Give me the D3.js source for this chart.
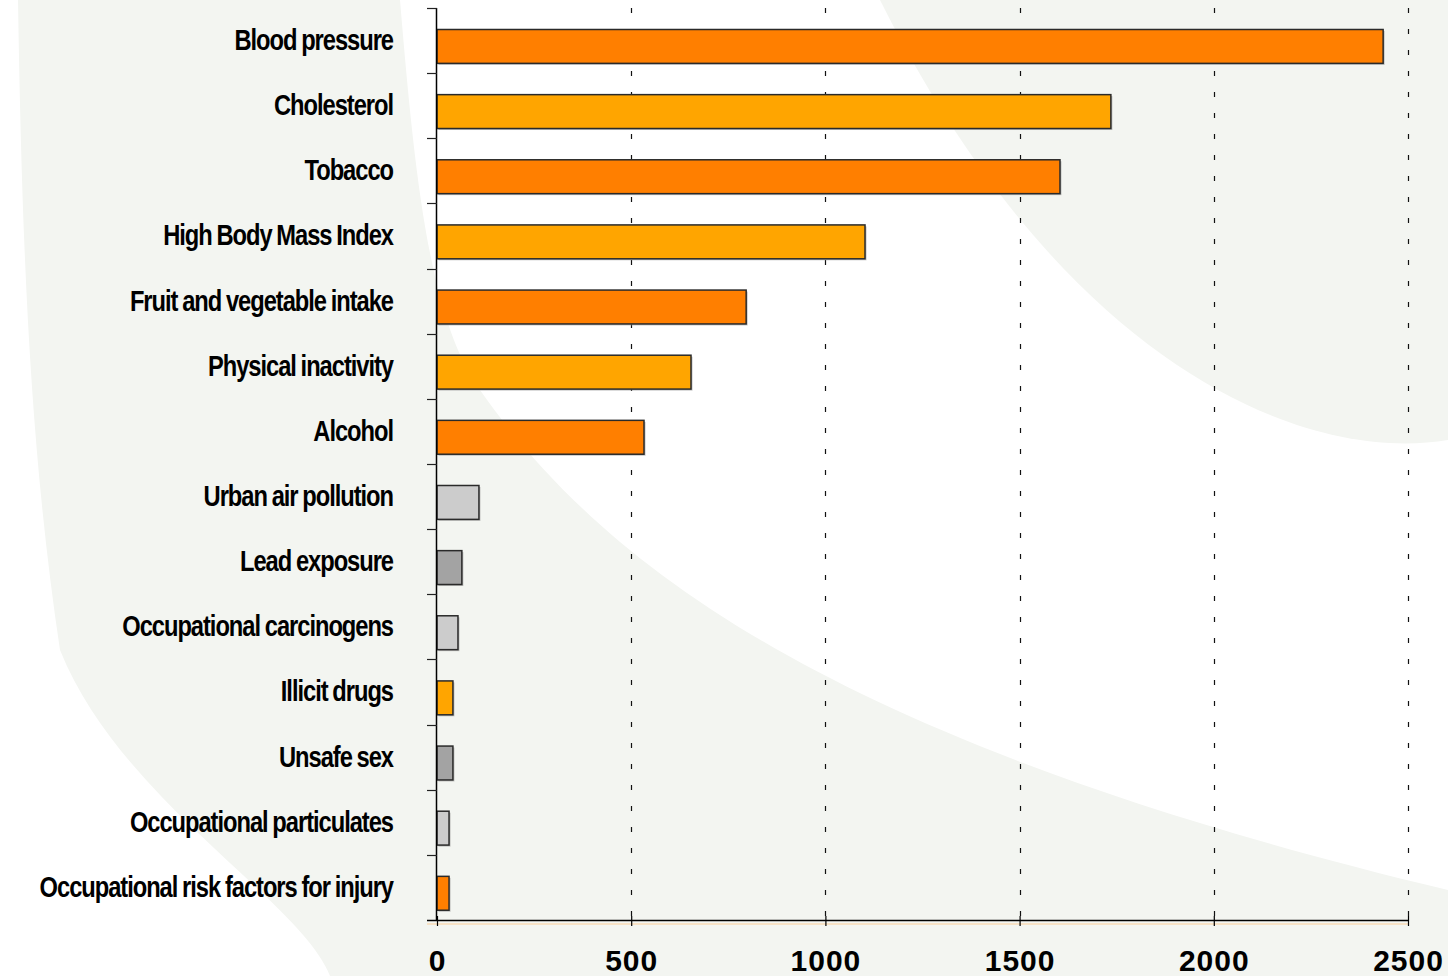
<!DOCTYPE html>
<html>
<head>
<meta charset="utf-8">
<script src="https://cdn.jsdelivr.net/npm/d3@7"></script>
<style>
  html, body { margin: 0; padding: 0; background: #ffffff; }
  svg { display: block; }
  .cat-label { font-family: "Liberation Sans", Arial, sans-serif; font-weight: bold; font-size: 30px; fill: #000; }
</style>
</head>
<body>
<svg id="chart" width="1448" height="976"></svg>
<script>
// Risk factors (top to bottom) and values
const categories = [
    'Blood pressure', 'Cholesterol', 'Tobacco', 'High Body Mass Index',
    'Fruit and vegetable intake', 'Physical inactivity', 'Alcohol',
    'Urban air pollution', 'Lead exposure', 'Occupational carcinogens',
    'Illicit drugs', 'Unsafe sex', 'Occupational particulates',
    'Occupational risk factors for injury'
];
const values = [2436, 1735, 1604, 1102, 796, 654, 533, 108, 64, 54, 41, 41, 31, 31];
// colour group of each bar: 0 dark orange, 1 light orange, 2 light grey, 3 dark grey
const groups = [0, 1, 0, 1, 0, 1, 0, 2, 3, 2, 1, 3, 2, 0];
const groupColors = ['#ff7f00', '#ffa500', '#cccccc', '#a3a3a3'];
const xTicks = [0, 500, 1000, 1500, 2000, 2500];

const svg = d3.select('#chart');

// Background: white slide with soft grey-green swooshes
const swoosh = '#f3f5f1';
svg.append('rect').attr('width', 1448).attr('height', 976).attr('fill', '#ffffff');
svg.append('path')
    .attr('d', 'M18,0 L400,0 C415,180 430,320 480,390 C600,560 820,740 1448,890 L1448,976 L330,976 C300,900 120,800 60,650 C30,450 22,250 18,0 Z')
    .attr('fill', swoosh);
svg.append('path')
    .attr('d', 'M880,0 L1448,0 L1448,440 C1300,465 1060,360 880,0 Z')
    .attr('fill', swoosh);

const margin = { top: 8, left: 437, right: 1408, bottom: 920 };

const x = d3.scaleLinear()
    .domain([0, 2500])
    .range([margin.left, margin.right]);

const y = d3.scaleBand()
    .domain(categories)
    .range([margin.top, margin.bottom])
    .paddingInner(0)
    .paddingOuter(0);

const bw = y.bandwidth();

// Dashed vertical gridlines
svg.append('g')
    .selectAll('line')
    .data(xTicks.filter(d => d > 0))
    .enter().append('line')
    .attr('x1', d => Math.round(x(d)) + 0.5)
    .attr('x2', d => Math.round(x(d)) + 0.5)
    .attr('y1', margin.top)
    .attr('y2', margin.bottom)
    .attr('stroke', '#111')
    .attr('stroke-width', 1.2)
    .attr('stroke-dasharray', '5,16');

// Bars
const barTop = d => y(d) + bw * 0.33;
const barH = bw * 0.52;
const data = categories.map((c, i) => ({ c, v: values[i], g: groups[i] }));

svg.append('g')
    .selectAll('rect')
    .data(data)
    .enter().append('rect')
    .attr('x', x(0) + 1.5)
    .attr('y', d => barTop(d.c) + 1.5)
    .attr('width', d => x(d.v) - x(0))
    .attr('height', barH)
    .attr('fill', '#9a9a9a')
    .attr('opacity', 0.6);

svg.append('g')
    .selectAll('rect')
    .data(data)
    .enter().append('rect')
    .attr('x', x(0))
    .attr('y', d => barTop(d.c))
    .attr('width', d => x(d.v) - x(0))
    .attr('height', barH)
    .attr('fill', d => groupColors[d.g])
    .attr('stroke', '#2a2a2a')
    .attr('stroke-width', 1.5);

// Y axis with boundary ticks
const yAxisG = svg.append('g');
yAxisG.append('line')
    .attr('x1', margin.left - 0.5).attr('x2', margin.left - 0.5)
    .attr('y1', margin.top).attr('y2', margin.bottom)
    .attr('stroke', '#000').attr('stroke-width', 1.5);
yAxisG.selectAll('line.tick')
    .data(categories)
    .enter().append('line')
    .attr('class', 'tick')
    .attr('x1', margin.left - 10).attr('x2', margin.left)
    .attr('y1', d => Math.round(y(d)) + 0.5)
    .attr('y2', d => Math.round(y(d)) + 0.5)
    .attr('stroke', '#222').attr('stroke-width', 1.2);

// X axis
svg.append('line')
    .attr('x1', margin.left - 10).attr('x2', margin.right)
    .attr('y1', margin.bottom + 4).attr('y2', margin.bottom + 4)
    .attr('stroke', '#fbcf9c').attr('stroke-width', 1.2);
const xAxis = d3.axisBottom(x)
    .tickValues(xTicks)
    .tickSize(6)
    .tickSizeOuter(0)
    .tickFormat(d3.format('d'));
const xAxisG = svg.append('g')
    .attr('transform', `translate(0,${margin.bottom})`)
    .call(xAxis);
xAxisG.select('.domain').remove();
xAxisG.append('line')
    .attr('x1', margin.left - 10).attr('x2', margin.right)
    .attr('y1', 0.5).attr('y2', 0.5)
    .attr('stroke', '#000').attr('stroke-width', 1.5);
xAxisG.selectAll('.tick line')
    .attr('y1', -4).attr('y2', 6)
    .attr('stroke', '#000').attr('stroke-width', 1.2);
xAxisG.selectAll('.tick text')
    .attr('y', 51)
    .attr('dy', 0)
    .attr('fill', '#000')
    .style('font-size', '30px')
    .style('font-weight', 'bold')
    .style('letter-spacing', '1px')
    .style('font-family', '"Liberation Sans", Arial, sans-serif');

// Category labels, condensed like the original slide
svg.append('g')
    .selectAll('text')
    .data(categories)
    .enter().append('text')
    .attr('class', 'cat-label')
    .attr('text-anchor', 'end')
    .attr('transform', d => `translate(393,${barTop(d) + barH / 2 + 3.5}) scale(0.79,1)`)
    .attr('letter-spacing', '-1.3px')
    .attr('word-spacing', '-1px')
    .text(d => d);
</script>
</body>
</html>
